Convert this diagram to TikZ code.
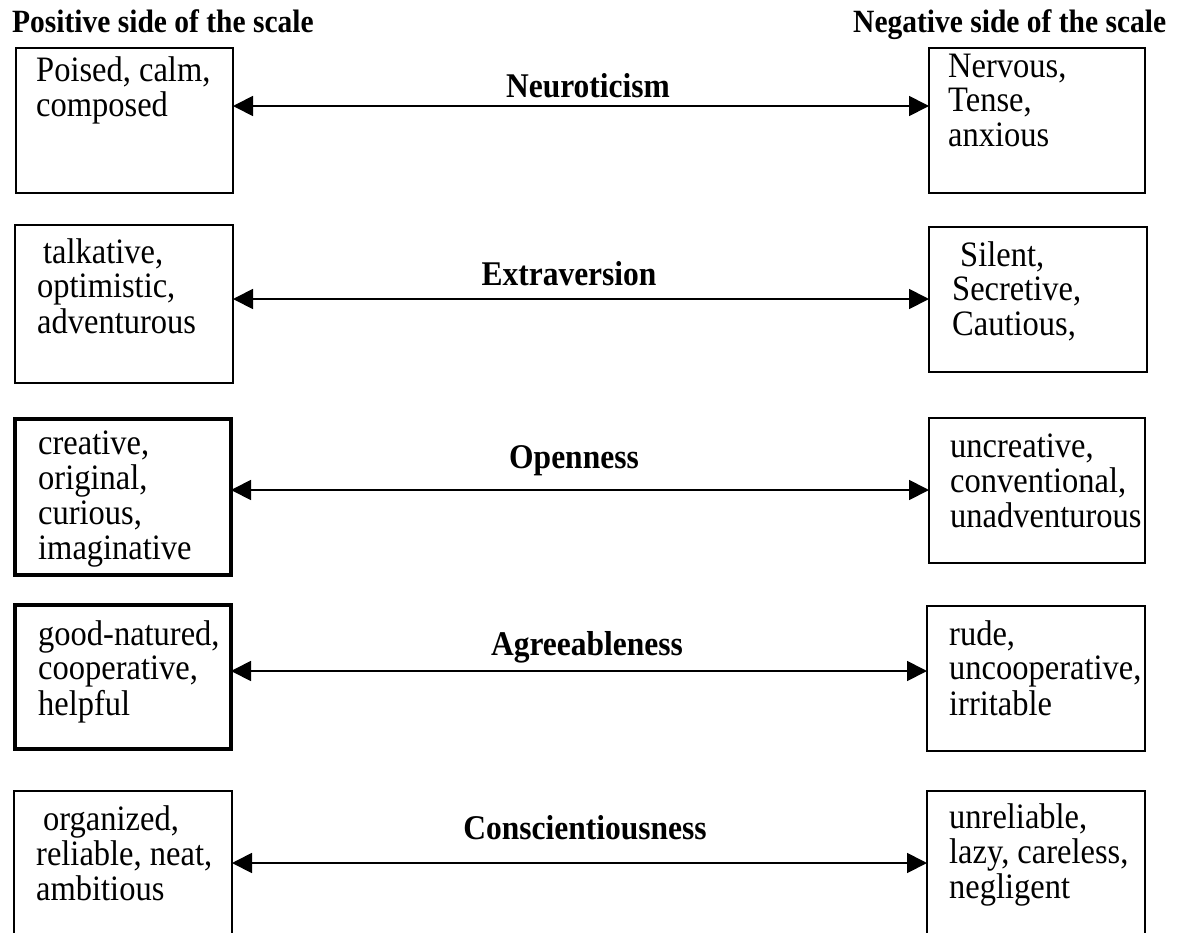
\documentclass[tikz,border=0pt]{standalone}
\usepackage{graphicx}
\usepackage{fontspec}
\setmainfont{Liberation Serif}
\usetikzlibrary{arrows.meta}

% slightly tall lettering
\newcommand{\tall}[1]{\scalebox{1}[1.1]{#1}}
% stacked lines of adjectives, baseline at the first line
\newcommand{\wordstack}[1]{\tall{\begin{tabular}[t]{@{}l@{}}#1\end{tabular}}}

\begin{document}
\begin{tikzpicture}[x=1pt,y=-1pt,
  tbox/.style={draw, line width=1.8pt, inner sep=0pt, outer sep=0pt},
  heavy/.style={tbox, line width=4.8pt},
  words/.style={anchor=base west, inner sep=0pt, font=\fontsize{32.5}{31.8}\selectfont},
  trait/.style={anchor=base, inner sep=0pt, font=\fontsize{31.5}{36}\selectfont\bfseries},
  header/.style={anchor=base west, inner sep=0pt, font=\fontsize{29.5}{34}\selectfont\bfseries},
  link/.style={line width=1.8pt, arrows={Triangle[length=20pt,width=20pt]-Triangle[length=20pt,width=20pt]}}]

\clip (0,0) rectangle (1181,932);
\fill[white] (0,0) rectangle (1181,932);

% column headers
\node[header] (poshead) at (12,32) {\tall{Positive side of the scale}};
\node[header] (neghead) at (853,32) {\tall{Negative side of the scale}};

% Neuroticism
\node[tbox, minimum width=217, minimum height=145] (pos1) at (124.5,120.5) {};
\node[tbox, minimum width=216, minimum height=145] (neg1) at (1037,120.5) {};
\node[words] (pos1t) at (36,81) {\wordstack{Poised, calm,\\composed}};
\node[words] (neg1t) at (948,77) {\wordstack{Nervous,\\Tense,\\anxious}};
\node[trait] (lab1) at (588,97) {\tall{Neuroticism}};
\coordinate (a1) at (0,106);
\draw[link] (pos1.east |- a1) -- (neg1.west |- a1);

% Extraversion
\node[tbox, minimum width=218, minimum height=158] (pos2) at (124,304) {};
\node[tbox, minimum width=218, minimum height=145] (neg2) at (1038,299.5) {};
\node[words] (pos2t) at (37,263) {\wordstack{\hspace{6pt}talkative,\\optimistic,\\adventurous}};
\node[words] (neg2t) at (952,266) {\wordstack{\hspace{8pt}Silent,\\Secretive,\\Cautious,}};
\node[trait] (lab2) at (569,285) {\tall{Extraversion}};
\coordinate (a2) at (0,299);
\draw[link] (pos2.east |- a2) -- (neg2.west |- a2);

% Openness
\node[heavy, minimum width=216, minimum height=156] (pos3) at (123,497) {};
\node[tbox, minimum width=216, minimum height=145] (neg3) at (1037,490.5) {};
\node[words] (pos3t) at (38,454) {\wordstack{creative,\\original,\\curious,\\imaginative}};
\node[words] (neg3t) at (950,457) {\wordstack{uncreative,\\conventional,\\unadventurous}};
\node[trait] (lab3) at (574,468) {\tall{Openness}};
\coordinate (a3) at (0,490);
\draw[link] (pos3.east |- a3) -- (neg3.west |- a3);

% Agreeableness
\node[heavy, minimum width=216, minimum height=144] (pos4) at (123,677) {};
\node[tbox, minimum width=218, minimum height=145] (neg4) at (1036,678.5) {};
\node[words] (pos4t) at (38,645) {\wordstack{good-natured,\\cooperative,\\helpful}};
\node[words] (neg4t) at (949,645) {\wordstack{rude,\\uncooperative,\\irritable}};
\node[trait] (lab4) at (587,655) {\tall{Agreeableness}};
\coordinate (a4) at (0,671);
\draw[link] (pos4.east |- a4) -- (neg4.west |- a4);

% Conscientiousness
\node[tbox, minimum width=218, minimum height=180] (pos5) at (123,881) {};
\node[tbox, minimum width=218, minimum height=180] (neg5) at (1036,881) {};
\node[words] (pos5t) at (36,830) {\wordstack{\hspace{7pt}organized,\\reliable, neat,\\ambitious}};
\node[words] (neg5t) at (949,828) {\wordstack{unreliable,\\lazy, careless,\\negligent}};
\node[trait] (lab5) at (585,839) {\tall{Conscientiousness}};
\coordinate (a5) at (0,863);
\draw[link] (pos5.east |- a5) -- (neg5.west |- a5);
\end{tikzpicture}
\end{document}
